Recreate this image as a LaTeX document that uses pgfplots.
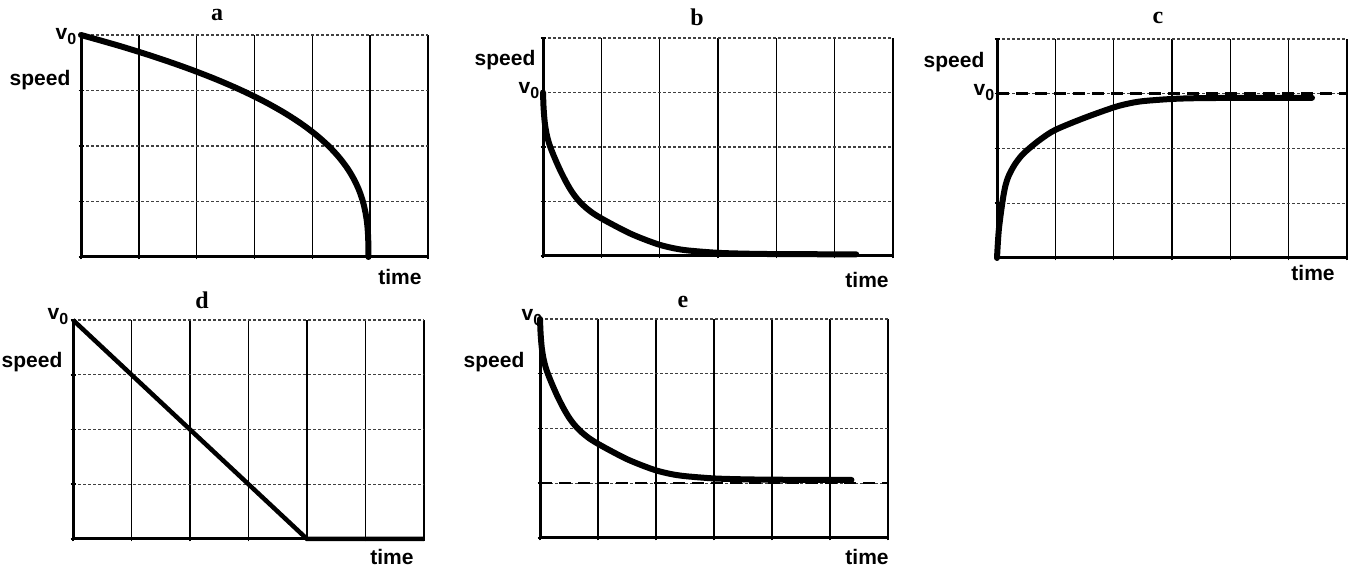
\documentclass[border=0pt]{standalone}
\usepackage{fontspec}
\setmainfont{Liberation Sans}
\newfontfamily\titlefam{Liberation Serif}
\usepackage{pgfplots}
\pgfplotsset{compat=1.18}

\newcommand\lab{\fontsize{21}{24}\selectfont\bfseries}
\newcommand\ttl{\titlefam\fontsize{24}{26}\selectfont\bfseries}
\newcommand\vo{v\raisebox{-0.45ex}{\fontsize{16}{16}\selectfont 0}}

\pgfplotsset{
  panel/.style={
    scale only axis,
    xmin=0, xmax=6, ymin=0, ymax=4,
    xtick={0,...,6}, ytick={0,...,4},
    xticklabels={}, yticklabels={},
    xmajorgrids, ymajorgrids,
    major x grid style={black, line width=1.6pt},
    major y grid style={black!75, line width=1.1pt, dash pattern=on 3pt off 2pt},
    axis lines=left,
    axis line style={-, line width=3pt, black},
    tick style={black, line width=1.5pt},
    major tick length=5pt, tick align=center,
    clip=false,
  },
  curve/.style={black, line width=6pt, line cap=round, line join=round, smooth, tension=0.5},
  vline/.style={black, line width=2.5pt, dash pattern=on 12pt off 7pt},
}

\begin{document}
\begin{tikzpicture}[x=1pt, y=1pt]
\useasboundingbox (0,0) rectangle (1358,567);

% a
\begin{axis}[panel, at={(81pt,310pt)}, anchor=south west, width=347pt, height=222pt]
  \addplot[curve] coordinates {
    (0,4) (0.676,3.8) (1.289,3.6) (1.842,3.4) (2.339,3.2) (2.781,3.0)
    (3.172,2.8) (3.514,2.6) (3.811,2.4) (4.065,2.2) (4.281,2.0)
    (4.459,1.8) (4.605,1.6) (4.720,1.4) (4.809,1.2) (4.874,1.0)
    (4.919,0.8) (4.948,0.6) (4.963,0.4) (4.969,0.2) (4.97,0)
  };
\end{axis}
\node[font=\ttl] at (217,552) {a};
\node[font=\lab] at (66,530) {\vo};
\node[font=\lab] at (40,487) {speed};
\node[font=\lab] at (400,290) {time};

% b
\begin{axis}[panel, at={(543pt,311pt)}, anchor=south west, width=350pt, height=218pt]
  \addplot[curve] coordinates {
    (0,3.0) (0.01,2.72) (0.03,2.45) (0.06,2.25) (0.1,2.08) (0.15,1.93)
    (0.22,1.75) (0.3,1.56) (0.4,1.35) (0.5,1.17) (0.6,1.03) (0.72,0.9)
    (0.85,0.79) (1.0,0.69) (1.25,0.545) (1.5,0.41) (1.75,0.3) (2.0,0.205)
    (2.25,0.14) (2.5,0.1) (3.0,0.058) (3.5,0.042) (4.0,0.035) (4.7,0.032)
    (5.37,0.03)
  };
\end{axis}
\node[font=\ttl] at (697,550) {b};
\node[font=\lab] at (505,507) {speed};
\node[font=\lab] at (529,476) {\vo};
\node[font=\lab] at (867,287) {time};

% c
\begin{axis}[panel, at={(997pt,309pt)}, anchor=south west, width=350pt, height=219pt]
  \addplot[vline] coordinates {(0,3) (6,3)};
  \addplot[curve] coordinates {
    (0,0) (0.03,0.5) (0.09,1.0) (0.14,1.3) (0.2,1.5) (0.3,1.7) (0.42,1.87)
    (0.55,2.0) (0.75,2.17) (1,2.34) (1.5,2.56) (2,2.75) (2.25,2.82)
    (2.5,2.865) (3,2.905) (3.5,2.92) (4.4,2.925) (5.4,2.925)
  };
\end{axis}
\node[font=\ttl] at (1158,549) {c};
\node[font=\lab] at (954,505) {speed};
\node[font=\lab] at (984,474) {\vo};
\node[font=\lab] at (1313,294) {time};

% d
\begin{axis}[panel, at={(73pt,28pt)}, anchor=south west, width=351pt, height=219pt]
  \addplot[black, line width=4.5pt, line join=round] coordinates {
    (0,4) (4,0) (6,0)
  };
\end{axis}
\node[font=\ttl] at (202,267) {d};
\node[font=\lab] at (58,250) {\vo};
\node[font=\lab] at (32,205) {speed};
\node[font=\lab] at (392,10) {time};

% e
\begin{axis}[panel, at={(540pt,29pt)}, anchor=south west, width=348pt, height=219pt]
  \addplot[vline] coordinates {(0,1) (6,1)};
  \addplot[curve] coordinates {
    (0,4.0) (0.01,3.74) (0.03,3.48) (0.06,3.28) (0.1,3.11) (0.15,2.96)
    (0.22,2.78) (0.3,2.59) (0.4,2.38) (0.5,2.2) (0.6,2.06) (0.72,1.93)
    (0.85,1.82) (1.0,1.72) (1.25,1.575) (1.5,1.44) (1.75,1.33) (2.0,1.235)
    (2.25,1.17) (2.5,1.13) (3.0,1.088) (3.5,1.072) (4.0,1.065) (4.7,1.062)
    (5.37,1.06)
  };
\end{axis}
\node[font=\ttl] at (683,265) {e};
\node[font=\lab] at (532,249) {\vo};
\node[font=\lab] at (494,205) {speed};
\node[font=\lab] at (867,10) {time};
\end{tikzpicture}
\end{document}
